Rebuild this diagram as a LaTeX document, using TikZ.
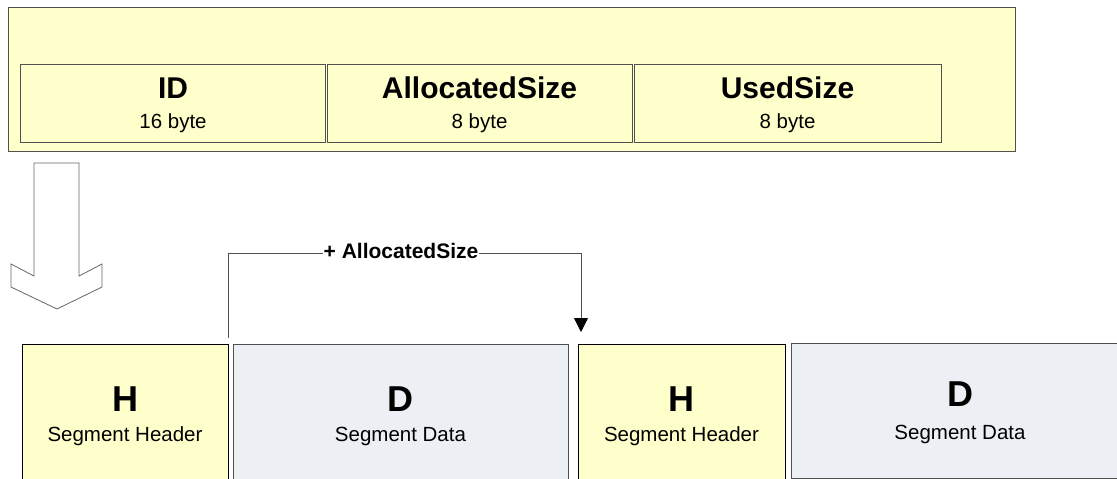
\documentclass[tikz,border=0pt]{standalone}
\usepackage{fontspec}
\setmainfont{Liberation Sans}
\usetikzlibrary{arrows.meta,calc}
\definecolor{hdrfill}{HTML}{FFFFCC}
\definecolor{datfill}{HTML}{ECEFF4}
\definecolor{edgegray}{HTML}{505050}
\definecolor{arrowgray}{HTML}{666666}
\begin{document}
\begin{tikzpicture}[x=1pt,y=-1pt,
  box/.style={draw=edgegray, line width=0.8pt, inner sep=0pt, outer sep=0pt},
  hbox/.style={box, fill=hdrfill},
  dbox/.style={box, fill=datfill},
  big/.style={anchor=base, font=\bfseries\fontsize{30}{30}\selectfont},
  huge/.style={anchor=base, font=\bfseries\fontsize{36}{36}\selectfont},
  small/.style={anchor=base, font=\fontsize{20.5}{20.5}\selectfont},
  conn/.style={draw=edgegray, line width=0.8pt}]
\useasboundingbox (0,0) rectangle (1117,479);

% record layout: outer frame and the three fields
\node[hbox, minimum width=1007pt, minimum height=144pt] (rec) at (511.5,79) {};
\node[hbox, minimum width=305pt, minimum height=78pt] (fid) at (173,103) {};
\node[hbox, minimum width=305pt, minimum height=78pt] (falloc) at (479.5,103) {};
\node[hbox, minimum width=307pt, minimum height=78pt] (fused) at (787.5,103) {};

\node[big] (tid) at (173,98) {ID};
\node[small] (sid) at (173,128) {16 byte};
\node[big] (talloc) at (479.5,98) {AllocatedSize};
\node[small] (salloc) at (479.5,128) {8 byte};
\node[big] (tused) at (787.5,98) {UsedSize};
\node[small] (sused) at (787.5,128) {8 byte};

% hollow block arrow pointing down to the segments
\draw[draw=arrowgray, line width=0.8pt, fill=white, line join=miter]
  (34,163) -- (79,163) -- (79,276) -- (102,264) -- (102,287) -- (57,309)
  -- (11,287) -- (11,264) -- (34,276) -- cycle;

% segments in memory
\node[hbox, draw=black, minimum width=206pt, minimum height=137pt] (h1) at (125,412.5) {};
\node[dbox, minimum width=335pt, minimum height=137pt] (d1) at (400.5,412.5) {};
\node[hbox, draw=black, minimum width=207pt, minimum height=137pt] (h2) at (681.5,412.5) {};
\node[dbox, minimum width=338pt, minimum height=135pt] (d2) at (960,410.5) {};

\node[huge] (th1) at (125,411) {H};
\node[small] (sh1) at (125,441) {Segment Header};
\node[huge] (td1) at (400.5,411) {D};
\node[small] (sd1) at (400.5,441) {Segment Data};
\node[huge] (th2) at (681.5,411) {H};
\node[small] (sh2) at (681.5,441) {Segment Header};
\node[huge] (td2) at (960,406) {D};
\node[small] (sd2) at (960,439) {Segment Data};

% offset from one header to the next
\coordinate (cstart) at ($(h1.north east)+(0,-6)$);
\coordinate (cend) at ($(h2.north west)+(3,-12)$);
\draw[conn, -{Triangle[width=14pt,length=14pt,color=black]}]
  (cstart) |- ($(cstart)!0.5!(cend)+(0,-81.5)$) coordinate (cmid) -| (cend);
\node[fill=white, inner sep=1pt, font=\bfseries\fontsize{21}{21}\selectfont]
  (clabel) at (401,251) {+ AllocatedSize};
\end{tikzpicture}
\end{document}
